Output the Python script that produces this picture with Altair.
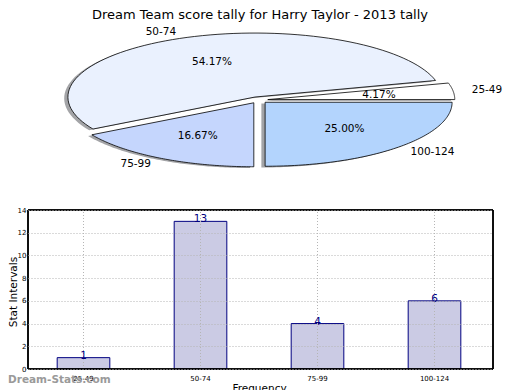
import altair as alt
import pandas as pd

# ---- data ----
categories = ["25-49", "50-74", "75-99", "100-124"]
counts = [1, 13, 4, 6]
order_idx = [0, 1, 2, 3]
pie_colors = ["#ffffff", "#eaf1fe", "#c5d6fd", "#b3d4fd"]
y_ticks = [0, 2, 4, 6, 8, 10, 12, 14]
title_text = "Dream Team score tally for Harry Taylor - 2013 tally"
watermark_text = "Dream-Stats.com"

df = pd.DataFrame({"cat": categories, "count": counts, "idx": order_idx})

FONT = "DejaVu Sans"
PAD_L = 20
W, H = 465, 361
N = 80          # points along each arc
EXPLODE = 0.05

# ---- pie (elliptical, exploded, with shadow) ----
pie_base = (
    alt.Chart(df)
    .transform_joinaggregate(total="sum(count)")
    .transform_window(cum="sum(count)", sort=[alt.SortField("idx")], frame=[None, 0])
    .transform_calculate(a0="2*PI*(datum.cum - datum.count)/datum.total")
    .transform_calculate(a1="2*PI*datum.cum/datum.total")
    .transform_calculate(mid="(datum.a0 + datum.a1)/2")
)

cx_page, rx = 258.5, 187
xs_pie = alt.Scale(domain=[-1, 1], range=[cx_page - 8 - PAD_L - rx, cx_page - 8 - PAD_L + rx], nice=False, zero=False)
ys_pie = alt.Scale(domain=[-1, 1], range=[156, 28], nice=False, zero=False)

pts = (
    pie_base
    .transform_calculate(pts=f"sequence(0, {N + 1})")
    .transform_flatten(["pts"])
    .transform_calculate(t=f"datum.a0 + (datum.a1 - datum.a0)*(datum.pts - 1)/{N - 1}")
    .transform_calculate(onarc="datum.pts >= 1 ? 1 : 0")
    .transform_calculate(px=f"{EXPLODE}*cos(datum.mid) + datum.onarc*cos(datum.t)")
    .transform_calculate(py=f"{EXPLODE}*sin(datum.mid) + datum.onarc*sin(datum.t)")
)

shadow = pts.transform_calculate(
    sx="datum.px - 0.02", sy="datum.py - 0.02"
).mark_line(interpolate="linear-closed", fill="#474a50", fillOpacity=0.5, strokeOpacity=0).encode(
    x=alt.X("sx:Q", scale=xs_pie, axis=None),
    y=alt.Y("sy:Q", scale=ys_pie, axis=None),
    detail="cat:N",
    order="pts:Q",
)

slices = pts.mark_line(interpolate="linear-closed", stroke="black", strokeWidth=0.8, fillOpacity=1).encode(
    x=alt.X("px:Q", scale=xs_pie, axis=None),
    y=alt.Y("py:Q", scale=ys_pie, axis=None),
    fill=alt.Fill("cat:N", scale=alt.Scale(domain=categories, range=pie_colors), legend=None),
    detail="cat:N",
    order="pts:Q",
)

lab = pie_base.transform_calculate(lx="1.15*cos(datum.mid)").transform_calculate(ly="1.15*sin(datum.mid)")
lab_r = lab.transform_filter("datum.lx >= 0").mark_text(
    align="left", baseline="middle", font=FONT, fontSize=10.5, color="black"
).encode(x=alt.X("lx:Q", scale=xs_pie, axis=None), y=alt.Y("ly:Q", scale=ys_pie, axis=None), text="cat:N")
lab_l = lab.transform_filter("datum.lx < 0").mark_text(
    align="right", baseline="middle", font=FONT, fontSize=10.5, color="black"
).encode(x=alt.X("lx:Q", scale=xs_pie, axis=None), y=alt.Y("ly:Q", scale=ys_pie, axis=None), text="cat:N")

pct = (
    pie_base
    .transform_calculate(qx="0.65*cos(datum.mid)")
    .transform_calculate(qy="0.65*sin(datum.mid)")
    .transform_calculate(ptxt="format(100*datum.count/datum.total, '.2f') + '%'")
    .mark_text(align="center", baseline="middle", font=FONT, fontSize=10.5, color="black")
    .encode(x=alt.X("qx:Q", scale=xs_pie, axis=None), y=alt.Y("qy:Q", scale=ys_pie, axis=None), text="ptxt:N")
)

pie = alt.layer(shadow, slices, lab_r, lab_l, pct)

# ---- bar chart ----
xs_bar = alt.Scale(domain=categories, range=[25 - 8 - PAD_L, W], paddingInner=0.55, paddingOuter=0.275)
xb = alt.X(
    "cat:N",
    sort=categories,
    scale=xs_bar,
    axis=alt.Axis(
        title="Frequency", orient="bottom", labelAngle=0, labelFontSize=7, labelFont=FONT,
        labelColor="black", ticks=False, domain=False, grid=False, labelPadding=5,
        titleFont=FONT, titleFontSize=10.5, titleFontWeight="normal", titleColor="black", titlePadding=2,
        titleX=(W + 25 - 8 - PAD_L) / 2,
    ),
)
ys_bar = alt.Scale(domain=[0, 14], range=[361, 202], nice=False, zero=True)
yb = alt.Y(
    "count:Q",
    scale=ys_bar,
    axis=alt.Axis(
        title="Stat Intervals", orient="left", values=y_ticks, labelFontSize=7, labelFont=FONT,
        labelColor="black", ticks=False, domain=False, labelPadding=2,
        grid=True, gridDash=[1, 2], gridColor="#b5b5b5", gridWidth=1, zindex=1,
        titleFont=FONT, titleFontSize=10.5, titleFontWeight="normal", titleColor="black",
        titleBaseline="bottom", titleX=-9.5, titleY=(361 + 202) / 2 + 2,
    ),
)

bars = alt.Chart(df).mark_bar(fill="#cbcbe4", stroke="#000080", strokeWidth=1).encode(x=xb, y=yb)

vgrid = alt.Chart(df).mark_rule(color="#b5b5b5", strokeDash=[1, 2], strokeWidth=1).encode(
    x=alt.X("cat:N", sort=categories, scale=xs_bar),
    y=alt.datum(0),
    y2=alt.datum(14),
)

values = alt.Chart(df).mark_text(
    align="center", baseline="alphabetic", dy=1, font=FONT, fontSize=10.5, color="#000080"
).encode(x=alt.X("cat:N", sort=categories, scale=xs_bar), y=alt.Y("count:Q"), text="count:Q")

frame = alt.Chart(df).mark_rect(filled=False, stroke="black", strokeWidth=1).encode(
    x=alt.value(0), x2=alt.value(W), y=alt.datum(14), y2=alt.datum(0)
)

bar_layer = alt.layer(bars, vgrid, values, frame)

# ---- title & watermark ----
one = pd.DataFrame({"k": [0]})
title_mark = alt.Chart(one).mark_text(
    align="center", baseline="alphabetic", font=FONT, fontSize=13, color="black"
).encode(x=alt.value(260 - 8 - PAD_L), y=alt.value(10.5), text=alt.value(title_text))

watermark = alt.Chart(one).mark_text(
    align="left", baseline="middle", font=FONT, fontSize=10.5, fontWeight="bold", color="#9a9a9a"
).encode(x=alt.value(-PAD_L), y=alt.value(372), text=alt.value(watermark_text))

chart = (
    alt.layer(pie, bar_layer, watermark, title_mark)
    .resolve_scale(x="independent", y="independent")
    .properties(
        width=W, height=H,
        autosize=alt.AutoSizeParams(type="none"),
        padding={"left": PAD_L, "top": 0, "right": 19, "bottom": 21},
    )
    .configure_view(stroke=None)
)

chart.save("out.html", embed_options={"renderer": "svg", "actions": False})
